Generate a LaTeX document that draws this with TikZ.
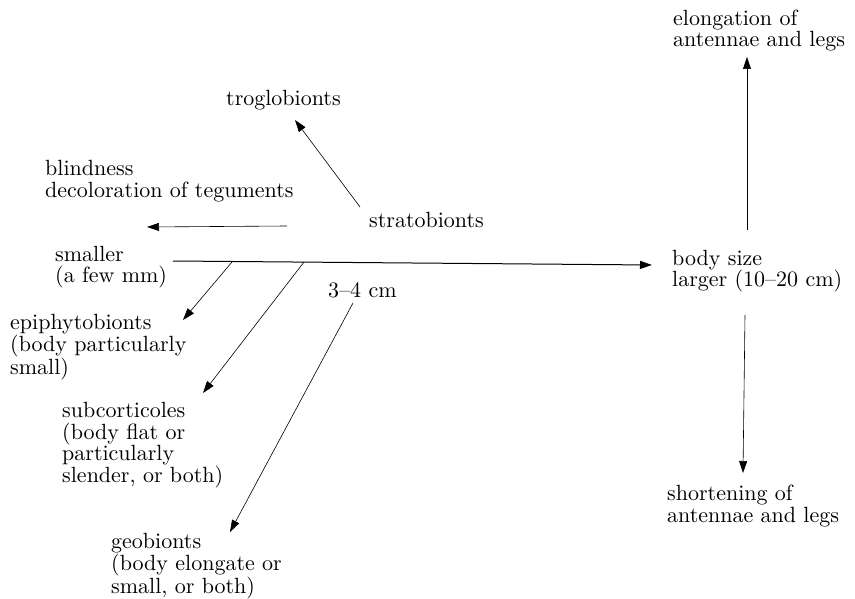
\documentclass[tikz,border=0pt]{standalone}
\usepackage{fontspec}
\setmainfont{lmroman10-regular.otf}
\usepackage{tikz}
\usetikzlibrary{arrows.meta, positioning}

\tikzset{
    lbl/.style={anchor=base west, align=left, inner sep=0pt, font=\fontsize{22}{21.5}\selectfont},
    arr/.style={line width=0.6pt, -{Triangle[length=12pt, width=8pt]}},
}

\begin{document}
\begin{tikzpicture}[x=1pt, y=-1pt]
    \useasboundingbox (0,0) rectangle (855,599);

    % Labels (anchored at the baseline of their last line)
    \node[lbl] (elong) at (673,47) {elongation of\\antennae and legs};
    \node[lbl] (trog) at (226,106) {troglobionts};
    \node[lbl] (blind) at (45,197) {blindness\\decoloration of teguments};
    \node[lbl] (strato) at (369,228) {stratobionts};
    \node[lbl] (small) at (55,283) {smaller\\(a few mm)};
    \node[lbl] (large) at (672,287) {body size\\larger (10--20 cm)};
    \node[lbl] (mid) at (328,298) {3--4 cm};
    \node[lbl] (epi) at (10,374) {epiphytobionts\\(body particularly\\small)};
    \node[lbl] (subc) at (62,482) {subcorticoles\\(body flat or\\particularly\\slender, or both)};
    \node[lbl] (geo) at (111,593) {geobionts\\(body elongate or\\small, or both)};
    \node[lbl] (short) at (667,522) {shortening of\\antennae and legs};

    % Arrow ends
    \coordinate (axisL) at (173,261);
    \coordinate (axisR) at (652,265);
    \coordinate (e1) at (232,262);
    \coordinate (e1t) at (183,320);
    \coordinate (s1) at (304,262);
    \coordinate (s1t) at (203,393);
    \coordinate (g1) at (353,303);
    \coordinate (g1t) at (230,532);
    \coordinate (t1) at (360,207);
    \coordinate (t1t) at (295,120);
    \coordinate (b1) at (287,226);
    \coordinate (b1t) at (147,227);
    \coordinate (up1) at (747,230);
    \coordinate (up1t) at (747,57);
    \coordinate (dn1) at (745,315);
    \coordinate (dn1t) at (743,473);

    % Draw arrows
    \draw[arr, line width=1pt] (axisL) -- (axisR);
    \draw[arr] (e1) -- (e1t);
    \draw[arr] (s1) -- (s1t);
    \draw[arr] (g1) -- (g1t);
    \draw[arr] (t1) -- (t1t);
    \draw[arr] (b1) -- (b1t);
    \draw[arr] (up1) -- (up1t);
    \draw[arr] (dn1) -- (dn1t);
\end{tikzpicture}
\end{document}
